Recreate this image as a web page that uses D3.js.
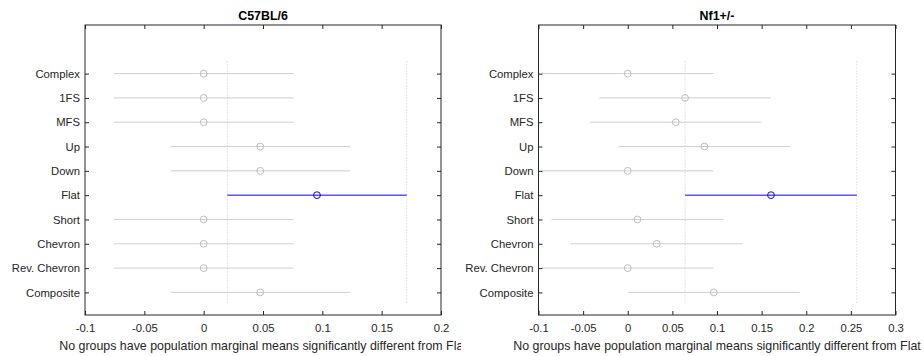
<!DOCTYPE html>
<html>
<head>
<meta charset="utf-8">
<script src="https://cdn.jsdelivr.net/npm/d3@7"></script>
<style>
  html, body { margin: 0; padding: 0; background: #fff; }
  svg { display: block; font-family: "Liberation Sans", Arial, Helvetica, sans-serif; }
</style>
</head>
<body>
<svg id="chart" width="924" height="356"></svg>
<script>
// Groups, listed top to bottom
const categories = ["Complex", "1FS", "MFS", "Up", "Down", "Flat", "Short", "Chevron", "Rev. Chevron", "Composite"];
const highlighted = "Flat";

// C57BL/6 population marginal means and comparison intervals
const c57Means = [0, 0, 0, 0.0477, 0.0477, 0.0955, 0, 0, 0, 0.0477];
const c57Lower = [-0.0756, -0.0756, -0.0756, -0.0279, -0.0279, 0.0199, -0.0756, -0.0756, -0.0756, -0.0279];
const c57Upper = [0.0756, 0.0756, 0.0756, 0.1233, 0.1233, 0.1711, 0.0756, 0.0756, 0.0756, 0.1233];
const c57Ticks = [-0.1, -0.05, 0, 0.05, 0.1, 0.15, 0.2];

// Nf1+/- population marginal means and comparison intervals
const nf1Means = [0, 0.0642, 0.0538, 0.0859, 0, 0.1605, 0.0108, 0.0325, 0, 0.0964];
const nf1Lower = [-0.0962, -0.032, -0.0424, -0.0103, -0.0962, 0.0643, -0.0854, -0.0637, -0.0962, 0.0002];
const nf1Upper = [0.0962, 0.1604, 0.15, 0.1821, 0.0962, 0.2567, 0.107, 0.1287, 0.0962, 0.1926];
const nf1Ticks = [-0.1, -0.05, 0, 0.05, 0.1, 0.15, 0.2, 0.25, 0.3];

const xLabelText = "No groups have population marginal means significantly different from Flat";

const svg = d3.select("#chart");
const fontFamily = "'Liberation Sans', Arial, Helvetica, sans-serif";
const axisColor = "#262626";
const greyLine = "#cfcfcf";
const greyMarker = "#bdbdbd";
const blue = "#0000ff";

function panel(opts) {
  const { left, right, top, bottom, title, means, lower, upper, ticks, clipRight } = opts;
  const x = d3.scaleLinear().domain([ticks[0], ticks[ticks.length - 1]]).range([left, right]);
  // group position: Complex at 10, Composite at 1
  const y = d3.scaleLinear().domain([0.07, 12]).range([bottom, top]);
  const n = categories.length;
  const rows = categories.map((c, i) => ({
    name: c, pos: n - i, mean: means[i], lo: lower[i], hi: upper[i]
  }));
  const hi = rows.find(r => r.name === highlighted);

  const g = svg.append("g");

  // reference lines at the highlighted group's interval bounds
  g.selectAll("line.ref").data([hi.lo, hi.hi]).join("line")
    .attr("class", "ref")
    .attr("x1", d => x(d)).attr("x2", d => x(d))
    .attr("y1", y(n + 0.5)).attr("y2", y(0.5))
    .attr("stroke", "#c8c8c8").attr("stroke-width", 1)
    .attr("stroke-dasharray", "1,2");

  // comparison intervals
  g.selectAll("line.ci").data(rows).join("line")
    .attr("class", "ci")
    .attr("x1", d => x(d.lo)).attr("x2", d => x(d.hi))
    .attr("y1", d => y(d.pos)).attr("y2", d => y(d.pos))
    .attr("stroke", d => d.name === highlighted ? blue : greyLine)
    .attr("stroke-width", 1);

  // means
  g.selectAll("circle.mean").data(rows).join("circle")
    .attr("class", "mean")
    .attr("cx", d => x(d.mean)).attr("cy", d => y(d.pos))
    .attr("r", 3.4)
    .attr("fill", "none")
    .attr("stroke", d => d.name === highlighted ? blue : greyMarker)
    .attr("stroke-width", 1);

  // axes: ticks pointing inward on all four sides
  const tickLen = 4;
  const bottomAxis = d3.axisBottom(x).tickValues(ticks).tickSize(-tickLen).tickPadding(9)
    .tickFormat(d => String(d));
  const topAxis = d3.axisTop(x).tickValues(ticks).tickSize(-tickLen).tickFormat("");
  const yTicks = rows.map(r => r.pos);
  const leftAxis = d3.axisLeft(y).tickValues(yTicks).tickSize(-tickLen).tickPadding(5)
    .tickFormat(p => categories[n - p]);
  const rightAxis = d3.axisRight(y).tickValues(yTicks).tickSize(-tickLen).tickFormat("");

  function style(sel) {
    sel.attr("font-family", null).attr("font-size", null);
    sel.selectAll("path.domain").remove();
    sel.selectAll("line").attr("stroke", axisColor);
    sel.selectAll("text").attr("fill", axisColor)
      .style("font-size", "11.3px").style("font-family", fontFamily);
  }
  g.append("g").attr("transform", `translate(0,${bottom})`).call(bottomAxis).call(style);
  g.append("g").attr("transform", `translate(0,${top})`).call(topAxis).call(style);
  g.append("g").attr("transform", `translate(${left},0)`).call(leftAxis).call(style);
  g.append("g").attr("transform", `translate(${right},0)`).call(rightAxis).call(style);

  // box
  g.append("rect")
    .attr("x", left).attr("y", top)
    .attr("width", right - left).attr("height", bottom - top)
    .attr("fill", "none").attr("stroke", axisColor).attr("stroke-width", 1);

  // title
  g.append("text")
    .attr("x", (left + right) / 2).attr("y", 20)
    .attr("text-anchor", "middle")
    .style("font-size", "12.4px").style("font-weight", "bold")
    .style("font-family", fontFamily)
    .attr("fill", "#000")
    .text(title);

  // x label, clipped to the panel's width
  const clipId = "clip-" + title.replace(/[^A-Za-z0-9]/g, "");
  svg.append("clipPath").attr("id", clipId)
    .append("rect").attr("x", 0).attr("y", 0).attr("width", clipRight).attr("height", 356);
  g.append("text")
    .attr("clip-path", `url(#${clipId})`)
    .attr("x", (left + right) / 2).attr("y", 350)
    .attr("text-anchor", "middle")
    .style("font-size", "12.4px")
    .style("font-family", fontFamily)
    .attr("fill", axisColor)
    .text(xLabelText);
}

panel({
  left: 85, right: 441, top: 25, bottom: 315,
  title: "C57BL/6", means: c57Means, lower: c57Lower, upper: c57Upper,
  ticks: c57Ticks, clipRight: 461
});
panel({
  left: 538.5, right: 895.5, top: 25, bottom: 315,
  title: "Nf1+/-", means: nf1Means, lower: nf1Lower, upper: nf1Upper,
  ticks: nf1Ticks, clipRight: 924
});
</script>
</body>
</html>
